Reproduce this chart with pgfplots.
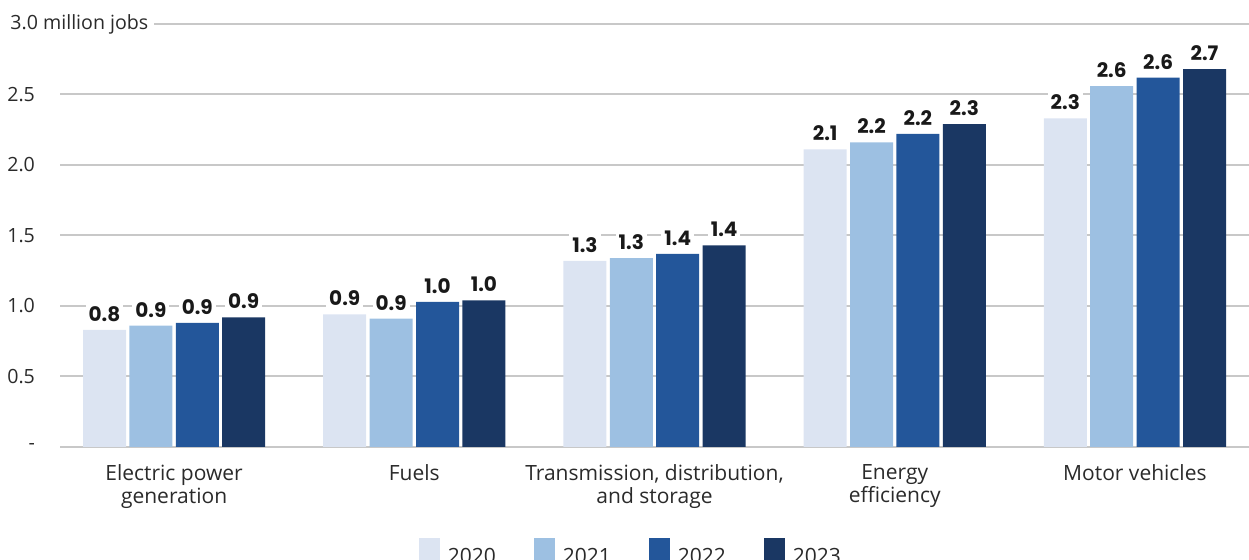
\documentclass[border=0pt]{standalone}
\usepackage{pgfplots}
\pgfplotsset{compat=1.18}
\usepackage{fontspec}
\setmainfont{Open Sans}
\newfontfamily\valfont{Poppins}

\definecolor{ca}{HTML}{DCE4F2}
\definecolor{cb}{HTML}{9DC0E2}
\definecolor{cc}{HTML}{23569A}
\definecolor{cd}{HTML}{1A3763}
\definecolor{gridgray}{HTML}{C8C8C8}
\definecolor{txt}{HTML}{2A2A2A}

\begin{document}
\begin{tikzpicture}
\begin{axis}[
  scale only axis,
  width=594.5pt, height=211.5pt,
  ybar=1.7pt, bar width=0.179,
  xmin=-0.475, xmax=4.475,
  ymin=0, ymax=3,
  clip=false,
  axis line style={draw=none},
  major tick length=0pt,
  ymajorgrids,
  grid style={draw=gridgray, line width=1pt},
  ytick={0,0.5,1,1.5,2,2.5},
  yticklabels={-,0.5,1.0,1.5,2.0,2.5},
  yticklabel style={anchor=east, xshift=-9pt, text=txt, font=\fontsize{9.8}{11}\selectfont},
  extra y ticks={3},
  extra y tick labels={3.0 million jobs},
  extra y tick style={grid=major, yticklabel style={anchor=west, xshift=-19pt, fill=white, inner sep=3pt}},
  xtick={0,1,2,3,4},
  xticklabels={{Electric power\\generation}, Fuels, {Transmission, distribution,\\and storage}, {Energy\\efficiency}, Motor vehicles},
  xticklabel style={align=center, text=txt, font=\fontsize{10.5}{11.5}\selectfont, yshift=-5pt},
  /pgf/number format/assume math mode=true,
  nodes near coords,
  nodes near coords style={font=\fontsize{10}{11}\valfont\bfseries, text=black!90, fill=white, inner sep=1.5pt, anchor=south, yshift=2.5pt,
    /pgf/number format/.cd, fixed, fixed zerofill, precision=1},
  legend style={at={(0.481,-0.205)}, anchor=north, draw=none, legend columns=-1,
    font=\fontsize{10.5}{12}\selectfont, text=txt,
    /tikz/every even column/.append style={column sep=17pt},
    /tikz/every odd column/.append style={column sep=2pt}},
  legend image code/.code={\fill[#1] (0pt,-4pt) rectangle (10.5pt,9.5pt);},
]
\addplot[fill=ca, draw=none] coordinates {(0,0.83) (1,0.94) (2,1.32) (3,2.11) (4,2.33)};
\addplot[fill=cb, draw=none] coordinates {(0,0.86) (1,0.91) (2,1.34) (3,2.16) (4,2.56)};
\addplot[fill=cc, draw=none] coordinates {(0,0.88) (1,1.03) (2,1.37) (3,2.22) (4,2.62)};
\addplot[fill=cd, draw=none] coordinates {(0,0.92) (1,1.04) (2,1.43) (3,2.29) (4,2.68)};
\legend{2020, 2021, 2022, 2023}
\coordinate (ll) at (rel axis cs:0,0);
\coordinate (ur) at (rel axis cs:1,1);
\end{axis}
\pgfresetboundingbox
\path[use as bounding box] ([xshift=-30pt,yshift=-56.5pt]ll) rectangle ([yshift=12pt]ur);
\end{tikzpicture}
\end{document}
